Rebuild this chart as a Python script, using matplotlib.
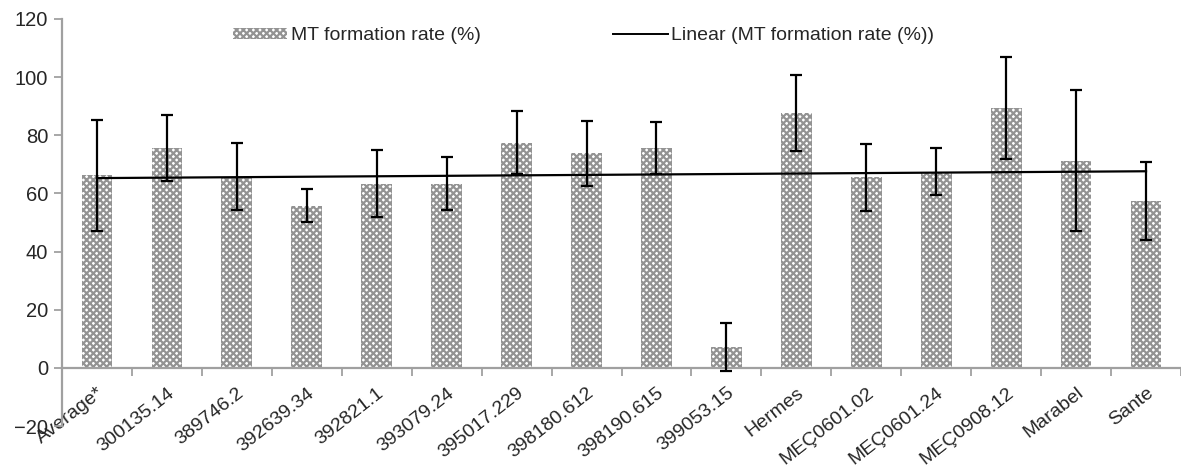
import numpy as np
import matplotlib
matplotlib.use("Agg")
import matplotlib.pyplot as plt
from matplotlib.patches import Patch
from matplotlib.lines import Line2D

plt.rcParams['font.family'] = ['Liberation Sans', 'DejaVu Sans']
plt.rcParams['hatch.linewidth'] = 1.6

# Genotypes and MT formation rate (%) with error (+/-)
genotypes = ['Average*', '300135.14', '389746.2', '392639.34', '392821.1',
             '393079.24', '395017.229', '398180.612', '398190.615', '399053.15',
             'Hermes', 'MEÇ0601.02', 'MEÇ0601.24', 'MEÇ0908.12', 'Marabel', 'Sante']
mt_rate = [66.2, 75.6, 65.8, 55.8, 63.4, 63.4, 77.4, 73.8, 75.6, 7.2,
           87.7, 65.6, 67.5, 89.4, 71.3, 57.5]
mt_err = [19.0, 11.3, 11.5, 5.8, 11.5, 9.0, 10.8, 11.2, 9.0, 8.4,
          13.0, 11.5, 8.1, 17.6, 24.2, 13.4]
y_ticks = [-20, 0, 20, 40, 60, 80, 100, 120]

axis_col = '#a0a0a0'
text_col = '#262626'
bar_hatch = 'xxxxx'
bar_col = '#939393'

fig = plt.figure(figsize=(11.81, 4.73), dpi=100)
ax = fig.add_axes([62 / 1181, 1 - 426 / 473, 1 - 62 / 1181, (426 - 19) / 473])

x = np.arange(len(genotypes))
ax.bar(x, mt_rate, width=0.44, color='white', edgecolor=bar_col,
       hatch=bar_hatch, linewidth=0, zorder=2)
ax.errorbar(x, mt_rate, yerr=mt_err, fmt='none', ecolor='black',
            elinewidth=1.6, capsize=4.5, capthick=1.6, zorder=4)

# linear trendline through the bar values
k, b = np.polyfit(x, mt_rate, 1)
ax.plot([x[0], x[-1]], [k * x[0] + b, k * x[-1] + b], color='black',
        lw=1.6, zorder=3)

# spines first: moving the bottom spine resets the ticks
ax.spines['top'].set_visible(False)
ax.spines['right'].set_visible(False)
ax.spines['bottom'].set_position(('data', 0))
for s in ['left', 'bottom']:
    ax.spines[s].set_color(axis_col)
    ax.spines[s].set_linewidth(1.6)

ax.set_xlim(-0.5, len(genotypes) - 0.5)
ax.set_ylim(-20, 120)
ax.set_yticks(y_ticks)
ax.tick_params(axis='y', direction='out', length=6, width=1.3, color=axis_col,
               labelsize=14.5, labelcolor=text_col, pad=4)

# category boundary ticks on the zero line, labels at category centres
ax.set_xticks(np.arange(len(genotypes)) + 0.5)
ax.set_xticklabels([])
ax.set_xticks(x, minor=True)
ax.tick_params(axis='x', which='major', direction='out', length=6, width=1.3,
               color=axis_col)
ax.tick_params(axis='x', which='minor', length=0, labelsize=14,
               labelcolor=text_col, pad=12)
ax.set_xticklabels(genotypes, minor=True, rotation=38, ha='right', va='top',
                   rotation_mode='anchor')

handles = [Patch(facecolor='white', edgecolor=bar_col, hatch=bar_hatch, linewidth=0),
           Line2D([], [], color='black', lw=1.4)]
labels = ['MT formation rate (%)', 'Linear (MT formation rate (%))']
fig.legend(handles, labels, loc='center left', bbox_to_anchor=(223 / 1181, 1 - 36 / 473),
           ncol=2, frameon=False, fontsize=14, handlelength=2.8, handleheight=0.45,
           handletextpad=0.2, columnspacing=6.8, borderpad=0, labelcolor=text_col)

fig.savefig('out.png', dpi=100)
